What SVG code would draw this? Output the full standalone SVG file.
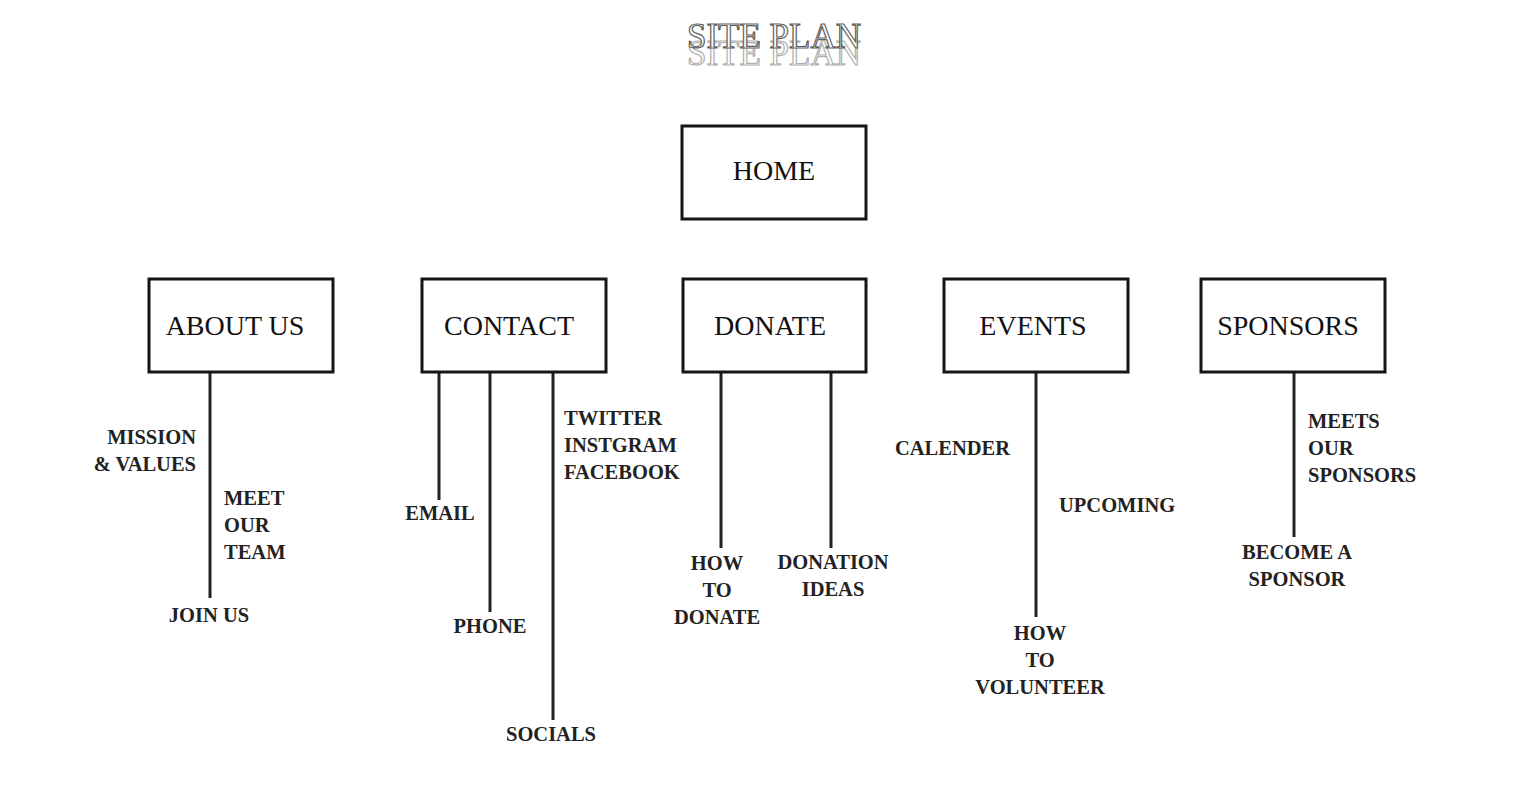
<svg xmlns="http://www.w3.org/2000/svg" width="1530" height="808" viewBox="0 0 1530 808">
<style>
.box{fill:#fff;stroke:#151515;stroke-width:3}
.main{font-family:"Liberation Serif",serif;font-size:28px;fill:#111;text-anchor:middle}
.sub{font-family:"Liberation Serif",serif;font-size:20.5px;font-weight:bold;fill:#222}
.c{text-anchor:middle}
.r{text-anchor:end}
.ln{stroke:#222;stroke-width:3;fill:none}
.t{font-family:"Liberation Serif",serif;font-size:35px;text-anchor:middle;fill:#fff;stroke-width:1.2}
</style>
<rect width="1530" height="808" fill="#fff"/>
<g id="title">
<text class="t" x="774" y="65" stroke="#b0b0b0">SITE PLAN</text>
<text class="t" x="774" y="48" stroke="#606060">SITE PLAN</text>
</g>
<g id="connectors">
<line class="ln" x1="210" y1="372" x2="210" y2="598"/>
<line class="ln" x1="439" y1="372" x2="439" y2="500"/>
<line class="ln" x1="490" y1="372" x2="490" y2="612"/>
<line class="ln" x1="553" y1="372" x2="553" y2="720"/>
<line class="ln" x1="721" y1="372" x2="721" y2="548"/>
<line class="ln" x1="831" y1="372" x2="831" y2="548"/>
<line class="ln" x1="1036" y1="372" x2="1036" y2="617"/>
<line class="ln" x1="1294" y1="372" x2="1294" y2="537"/>
</g>
<g id="home"><rect class="box" x="682" y="126" width="184" height="93"/><text class="main" x="774" y="180">HOME</text></g>
<g id="about"><rect class="box" x="149" y="279" width="184" height="93"/><text class="main" x="235" y="335">ABOUT US</text></g>
<g id="contact"><rect class="box" x="422" y="279" width="184" height="93"/><text class="main" x="509" y="335">CONTACT</text></g>
<g id="donate"><rect class="box" x="683" y="279" width="183" height="93"/><text class="main" x="770" y="335">DONATE</text></g>
<g id="events"><rect class="box" x="944" y="279" width="184" height="93"/><text class="main" x="1033" y="335">EVENTS</text></g>
<g id="sponsors"><rect class="box" x="1201" y="279" width="184" height="93"/><text class="main" x="1288" y="335">SPONSORS</text></g>
<g id="mission"><text class="sub r" x="196" y="444">MISSION</text><text class="sub r" x="196" y="471">&amp; VALUES</text></g>
<g id="meet-team"><text class="sub" x="224" y="505">MEET</text><text class="sub" x="224" y="532">OUR</text><text class="sub" x="224" y="559">TEAM</text></g>
<g id="join"><text class="sub c" x="209" y="622">JOIN US</text></g>
<g id="email"><text class="sub c" x="440" y="520">EMAIL</text></g>
<g id="phone"><text class="sub c" x="490" y="633">PHONE</text></g>
<g id="socials"><text class="sub c" x="551" y="741">SOCIALS</text></g>
<g id="social-list"><text class="sub" x="564" y="425">TWITTER</text><text class="sub" x="564" y="452">INSTGRAM</text><text class="sub" x="564" y="479">FACEBOOK</text></g>
<g id="how-donate"><text class="sub c" x="717" y="570">HOW</text><text class="sub c" x="717" y="597">TO</text><text class="sub c" x="717" y="624">DONATE</text></g>
<g id="donation-ideas"><text class="sub c" x="833" y="569">DONATION</text><text class="sub c" x="833" y="596">IDEAS</text></g>
<g id="calender"><text class="sub" x="895" y="455">CALENDER</text></g>
<g id="upcoming"><text class="sub" x="1059" y="512">UPCOMING</text></g>
<g id="volunteer"><text class="sub c" x="1040" y="640">HOW</text><text class="sub c" x="1040" y="667">TO</text><text class="sub c" x="1040" y="694">VOLUNTEER</text></g>
<g id="meet-sponsors"><text class="sub" x="1308" y="428">MEETS</text><text class="sub" x="1308" y="455">OUR</text><text class="sub" x="1308" y="482">SPONSORS</text></g>
<g id="become"><text class="sub c" x="1297" y="559">BECOME A</text><text class="sub c" x="1297" y="586">SPONSOR</text></g>
</svg>
